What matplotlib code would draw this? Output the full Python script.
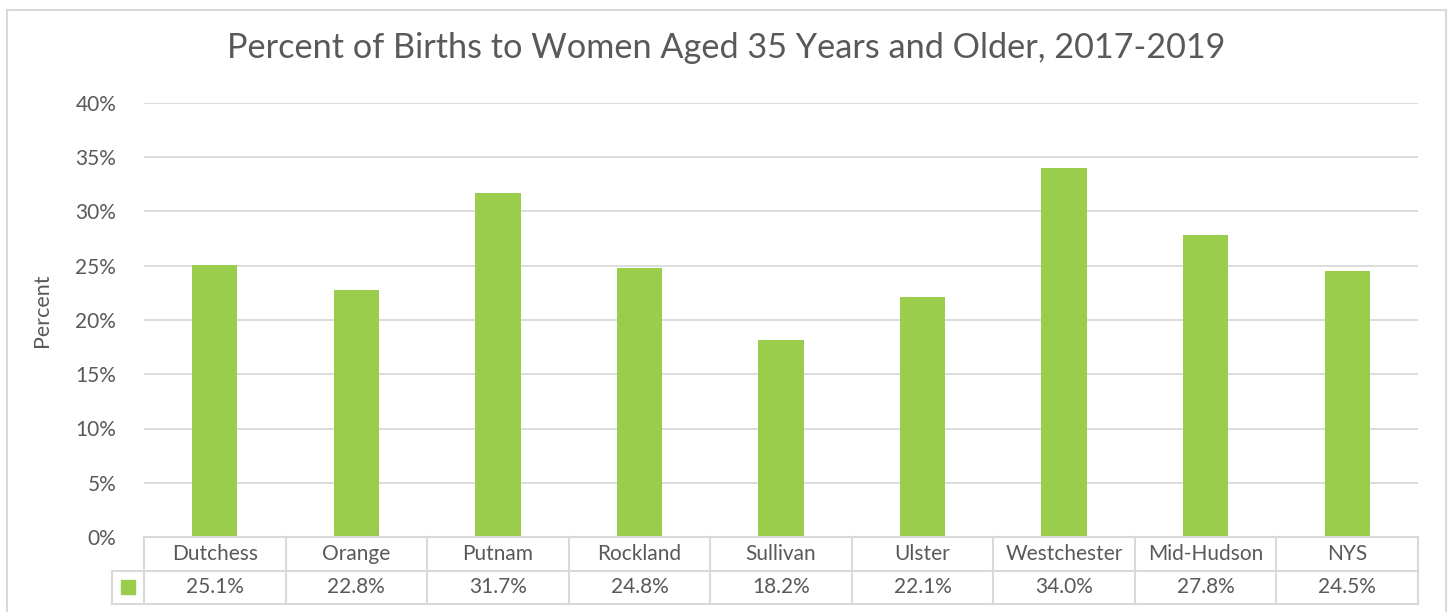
import matplotlib.pyplot as plt
import matplotlib.patches as patches
from matplotlib.ticker import FuncFormatter

# Data
regions = ['Dutchess', 'Orange', 'Putnam', 'Rockland', 'Sullivan',
           'Ulster', 'Westchester', 'Mid-Hudson', 'NYS']
pct_35_plus = [25.1, 22.8, 31.7, 24.8, 18.2, 22.1, 34.0, 27.8, 24.5]
y_ticks = [0, 5, 10, 15, 20, 25, 30, 35, 40]

W, H = 1450, 612
bar_color = '#9BCD4C'
grid_color = '#D9D9D9'
text_color = '#595959'

plt.rcParams['font.family'] = ['Lato', 'DejaVu Sans']

fig = plt.figure(figsize=(W / 100, H / 100), dpi=100)


def px_box(x0, y0, x1, y1):
    """pixel box (top-left origin) -> figure fraction rect"""
    return [x0 / W, 1 - y1 / H, (x1 - x0) / W, (y1 - y0) / H]


# outer chart frame
fig.patches.append(patches.Rectangle((7 / W, -0.05), (1446 - 7) / W, 1 - 10 / H + 0.05,
                                     transform=fig.transFigure, fill=False,
                                     edgecolor=grid_color, linewidth=1.5))
# little green marker peeking from top-left
fig.patches.append(patches.Circle((38 / W, 1 + 4 / H), 0.006, transform=fig.transFigure,
                                  facecolor='#6AAE2B', edgecolor='none', clip_on=False))

# main bar axes
ax = fig.add_axes(px_box(144, 103, 1418, 537))
x = list(range(len(regions)))
ax.bar(x, pct_35_plus, width=0.32, color=bar_color, zorder=3)
ax.set_xlim(-0.5, len(regions) - 0.5)
ax.set_ylim(0, 40)
ax.set_yticks(y_ticks)
ax.yaxis.set_major_formatter(FuncFormatter(lambda v, _: f'{v:.0f}%'))
ax.tick_params(axis='y', length=0, pad=20, labelsize=15, labelcolor=text_color)
ax.set_xticks([])
ax.grid(axis='y', color=grid_color, linewidth=1.3, zorder=0)
for s in ax.spines.values():
    s.set_visible(False)

fig.text(42 / W, 1 - 310 / H, 'Percent', rotation=90, ha='center', va='center',
         fontsize=15.5, color=text_color)
fig.text(726 / W, 1 - 48 / H,
         'Percent of Births to Women Aged 35 Years and Older, 2017-2019',
         ha='center', va='center', fontsize=24.7, color=text_color)

# data table below
tax = fig.add_axes(px_box(144, 537, 1418, 604))
tax.set_xlim(-0.5, len(regions) - 0.5)
tax.set_ylim(0, 2)
tax.axis('off')
col_w = (1418 - 144) / len(regions)
key_left = -0.5 - (144 - 112) / col_w
lw = 1.5
# horizontal lines
tax.plot([-0.5, len(regions) - 0.5], [2, 2], color=grid_color, lw=lw, clip_on=False)
tax.plot([key_left, len(regions) - 0.5], [1, 1], color=grid_color, lw=lw, clip_on=False)
tax.plot([key_left, len(regions) - 0.5], [0, 0], color=grid_color, lw=lw, clip_on=False)
# vertical lines
tax.plot([key_left, key_left], [0, 1], color=grid_color, lw=lw, clip_on=False)
for i in range(len(regions) + 1):
    tax.plot([i - 0.5, i - 0.5], [0, 2], color=grid_color, lw=lw, clip_on=False)
# legend key
key_c = (key_left - 0.5) / 2
tax.scatter([key_c], [0.5], marker='s', s=110, color=bar_color, clip_on=False, zorder=3)
for i, (name, v) in enumerate(zip(regions, pct_35_plus)):
    tax.text(i, 1.5, name, ha='center', va='center', fontsize=15, color=text_color)
    tax.text(i, 0.5, f'{v:.1f}%', ha='center', va='center', fontsize=15, color=text_color)

fig.savefig('out.png', dpi=100, facecolor='white')
